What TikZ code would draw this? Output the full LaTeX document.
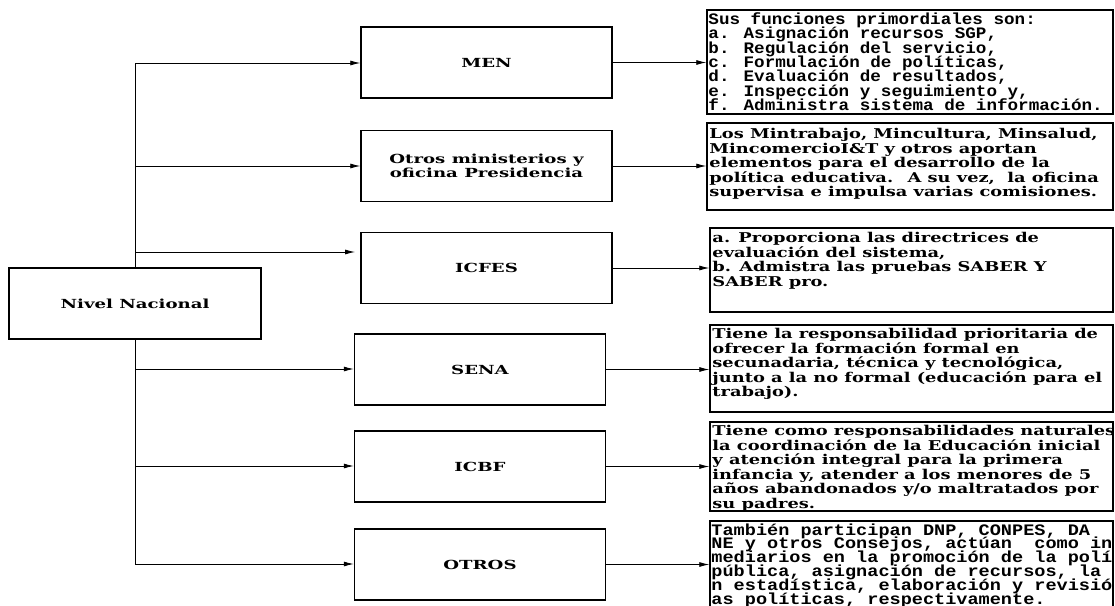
\documentclass[tikz,border=0pt]{standalone}
\usepackage{fontspec}
\usetikzlibrary{arrows.meta}
\newfontfamily\dvs[FakeStretch=1.32]{DejaVu Serif}
\newfontfamily\dvl[FakeStretch=1.45]{DejaVu Serif}
\newfontfamily\monw[FakeStretch=1.1]{Liberation Mono}
\newfontfamily\monx[FakeStretch=1.16]{Liberation Mono}
\newcommand\tightlines{\lineskiplimit=-50pt\relax}
\begin{document}
\begin{tikzpicture}[x=1pt,y=-1pt,
  midbox/.style={draw, line width=1.5pt, minimum width=251pt, minimum height=71pt, inner sep=0pt, align=center, font=\dvl\bfseries\fontsize{12.5}{13.5}\selectfont},
  txtbox/.style={draw, line width=1.5pt, minimum width=403pt, inner sep=0pt},
  txt/.style={anchor=north west, inner sep=0pt, align=left, font=\dvs\bfseries\fontsize{13.5}{14.5}\selectfont\tightlines},
  txtw/.style={anchor=north west, inner sep=0pt, align=left, font=\monw\bfseries\fontsize{16}{14.4}\selectfont\tightlines},
  txtx/.style={anchor=north west, inner sep=0pt, align=left, font=\monx\bfseries\fontsize{16}{13.8}\selectfont\tightlines},
  arr/.style={line width=0.8pt, -{Latex[length=10pt,width=5pt]}},
  ln/.style={line width=0.8pt}]
\useasboundingbox (0,0) rectangle (1115,605);

% trunk coordinates
\coordinate (t1) at (135,63);
\coordinate (t2) at (135,166);
\coordinate (t3) at (135,252);
\coordinate (t4) at (135,369);
\coordinate (t5) at (135,466);
\coordinate (t6) at (135,564);
\draw[ln] (t1) -- (t6);

\node[midbox, minimum width=252pt, fill=white] (nivel) at (135,303.5) {Nivel Nacional};

% middle boxes
\node[midbox] (men) at (486.5,62.5) {MEN};
\node[midbox] (otr) at (486.5,166) {Otros ministerios y\\oficina Presidencia};
\node[midbox] (icf) at (486.5,268) {ICFES};
\node[midbox] (sena) at (480,369.5) {SENA};
\node[midbox] (icbf) at (480,466.5) {ICBF};
\node[midbox] (otros) at (480,564.5) {OTROS};

\coordinate (icfin) at (355,252);
\draw[arr] (t1) -- (t1 -| men.west);
\draw[arr] (t2) -- (t2 -| otr.west);
\draw[arr] (t3) -- (icfin);
\draw[arr] (t4) -- (t4 -| sena.west);
\draw[arr] (t5) -- (t5 -| icbf.west);
\draw[arr] (t6) -- (t6 -| otros.west);

% text boxes
\node[txtbox, minimum width=406pt, minimum height=104pt] (tmen) at (910,62) {};
\node[txtbox, minimum width=406pt, minimum height=87pt] (totr) at (910,166.5) {};
\node[txtbox, minimum width=403pt, minimum height=84pt] (ticf) at (911.5,270) {};
\node[txtbox, minimum width=403pt, minimum height=87pt] (tsena) at (911.5,368.5) {};
\node[txtbox, minimum width=403pt, minimum height=89pt] (ticbf) at (911.5,466.5) {};
\node[txtbox, minimum width=403pt, minimum height=90pt] (totros) at (911.5,566) {};

\draw[arr] (men) -- (men -| tmen.west);
\draw[arr] (otr) -- (otr -| totr.west);
\draw[arr] (icf) -- (icf -| ticf.west);
\draw[arr] (sena) -- (sena -| tsena.west);
\draw[arr] (icbf) -- (icbf -| ticbf.west);
\draw[arr] (otros) -- (otros -| totros.west);

\begin{scope}
\clip (tmen.north west) rectangle (tmen.south east);
\node[txtw] (xmen) at ([shift={(2,3)}]tmen.north west) {Sus funciones primordiales son:\\a. Asignación recursos SGP,\\b. Regulación del servicio,\\c. Formulación de políticas,\\d. Evaluación de resultados,\\e. Inspección y seguimiento y,\\f. Administra sistema de información.};
\end{scope}
\begin{scope}
\clip (totr.north west) rectangle (totr.south east);
\node[txt] (xotr) at ([shift={(3,6)}]totr.north west) {Los Mintrabajo, Mincultura, Minsalud,\\MincomercioI\&T y otros aportan\\elementos para el desarrollo de la\\política educativa.~ A su vez,~ la oficina\\supervisa e impulsa varias comisiones.};
\end{scope}
\begin{scope}
\clip (ticf.north west) rectangle (ticf.south east);
\node[txt] (xicf) at ([shift={(3,5)}]ticf.north west) {a. Proporciona las directrices de\\evaluación del sistema,\\b. Admistra las pruebas SABER Y\\SABER pro.};
\end{scope}
\begin{scope}
\clip (tsena.north west) rectangle (tsena.south east);
\node[txt] (xsena) at ([shift={(3,4)}]tsena.north west) {Tiene la responsabilidad prioritaria de\\ofrecer la formación formal en\\secunadaria, técnica y tecnológica,\\junto a la no formal (educación para el\\trabajo).};
\end{scope}
\begin{scope}
\clip (ticbf.north west) rectangle (ticbf.south east);
\node[txt] (xicbf) at ([shift={(3,4)}]ticbf.north west) {Tiene como responsabilidades naturales\\la coordinación de la Educación inicial\\y atención integral para la primera\\infancia y, atender a los menores de 5\\años abandonados y/o maltratados por\\su padres.};
\end{scope}
\begin{scope}
\clip (totros.north west) rectangle (totros.south east);
\node[txtx] (xotros) at ([shift={(2,3)}]totros.north west) {También participan DNP, CONPES, DA\\NE y otros Consejos, actúan~ como inter\\mediarios en la promoción de la política\\pública, asignación de recursos, la gestió\\n estadística, elaboración y revisión de l\\as políticas, respectivamente.};
\end{scope}
\end{tikzpicture}
\end{document}
